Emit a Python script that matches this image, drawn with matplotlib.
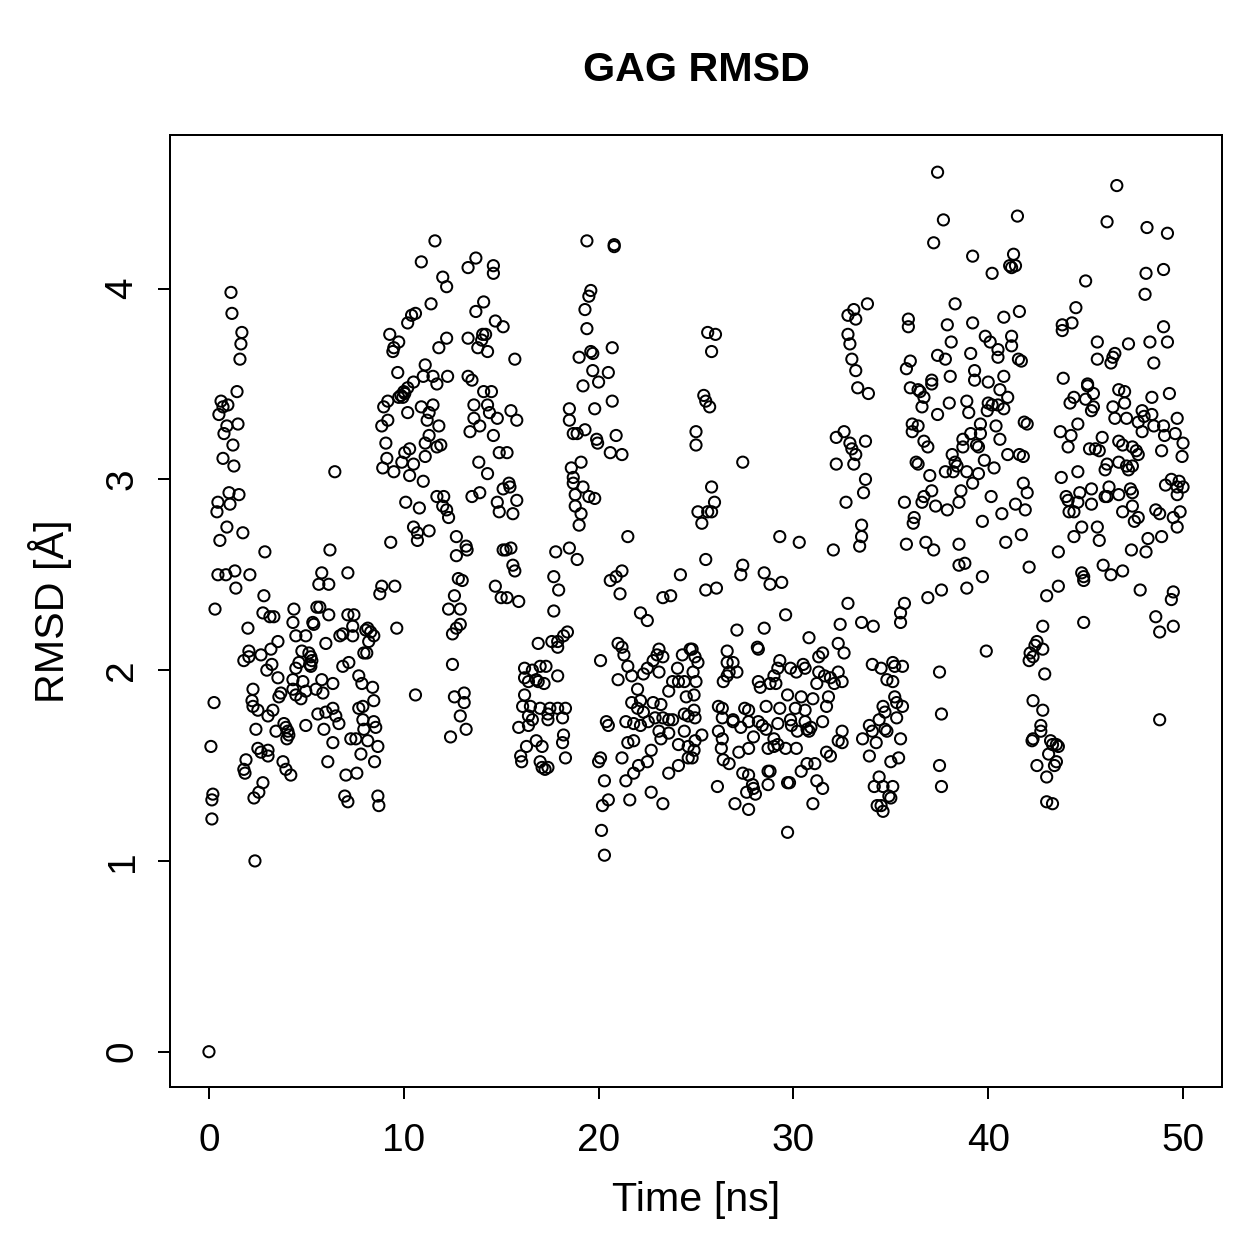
import matplotlib
matplotlib.use('Agg')
import matplotlib.pyplot as plt

# RMSD samples (time in ns, RMSD in Angstrom)
seg_a = [(0.00, 0.00), (0.10, 1.60), (0.15, 1.32), (0.20, 1.35), (0.15, 1.22), (0.26, 1.83), (0.31, 2.32),
         (0.41, 2.83), (0.46, 2.88), (0.46, 2.50), (0.56, 2.68), (0.51, 3.34), (0.62, 3.41), (0.72, 3.38),
         (0.97, 3.39), (0.92, 3.28), (0.77, 3.24), (0.72, 3.11), (0.87, 2.50), (0.92, 2.75), (1.03, 2.93),
         (1.08, 2.87), (1.13, 3.98), (1.18, 3.87), (1.23, 3.18), (1.28, 3.07), (1.33, 2.52), (1.38, 2.43),
         (1.44, 3.46), (1.49, 3.29), (1.54, 2.92), (1.59, 3.63), (1.64, 3.71), (1.69, 3.77), (1.74, 2.72),
         (1.79, 2.05), (1.79, 1.48), (1.85, 1.46), (1.90, 1.53), (2.00, 2.22), (2.05, 2.10), (2.05, 2.07),
         (2.10, 2.50), (2.21, 1.84), (2.26, 1.90), (2.26, 1.81), (2.31, 1.33), (2.36, 1.00), (2.41, 1.69),
         (2.51, 1.79), (2.51, 1.59), (2.56, 1.36), (2.67, 2.08), (2.67, 1.57), (2.77, 2.30), (2.77, 1.41),
         (2.82, 2.39), (2.87, 2.62), (2.97, 2.00), (3.03, 1.76), (3.03, 1.55), (3.03, 1.58), (3.13, 2.28),
         (3.18, 2.11), (3.23, 2.03), (3.28, 1.79), (3.33, 2.28), (3.44, 1.68), (3.54, 2.15), (3.54, 1.96),
         (3.59, 1.86), (3.69, 1.88), (3.80, 1.52), (3.85, 1.72), (3.95, 1.70), (3.95, 1.48), (4.00, 1.64),
         (4.05, 1.68), (4.10, 1.66), (4.20, 1.45)]

seg_b = [(4.36, 2.32), (4.31, 2.25), (4.46, 2.18), (4.97, 2.18), (6.00, 2.14), (6.72, 2.18), (6.87, 2.19),
         (7.38, 2.23), (7.38, 2.18), (8.05, 2.21), (4.77, 2.10), (5.13, 2.09), (5.23, 2.07), (5.28, 2.05),
         (5.18, 2.03), (4.62, 2.04), (4.46, 2.01), (5.23, 2.02), (4.31, 1.95), (4.82, 1.94), (5.79, 1.95),
         (6.36, 1.93), (6.87, 2.02), (7.18, 2.04), (7.69, 1.97), (7.85, 1.93), (7.95, 2.09), (4.31, 1.90),
         (4.46, 1.87), (4.72, 1.85), (4.97, 1.89), (5.49, 1.90), (5.85, 1.88), (5.59, 1.77), (6.00, 1.78),
         (6.36, 1.80), (6.51, 1.76), (6.67, 1.72), (7.69, 1.80), (7.90, 1.74), (4.97, 1.71), (5.90, 1.69),
         (6.36, 1.62), (7.28, 1.64), (7.54, 1.64), (7.80, 1.56), (7.95, 1.69), (6.10, 1.52), (7.03, 1.45),
         (7.59, 1.46), (6.97, 1.34), (7.13, 1.31), (5.33, 2.25), (5.38, 2.24), (5.54, 2.33), (5.69, 2.33),
         (6.15, 2.29), (7.13, 2.29), (7.44, 2.29), (5.79, 2.51), (5.64, 2.45), (6.15, 2.45), (7.13, 2.51),
         (6.21, 2.63), (6.46, 3.04)]

seg_c = [(8.15, 2.22), (8.30, 2.20), (8.46, 2.18), (8.20, 2.15), (8.10, 2.09), (8.40, 1.91), (8.46, 1.84),
         (8.46, 1.73), (8.56, 1.70), (8.15, 1.63), (8.67, 1.60), (8.50, 1.52), (8.67, 1.34), (8.72, 1.29),
         (7.90, 1.81), (8.87, 2.44), (8.77, 2.40), (9.33, 2.67), (9.54, 2.44), (9.64, 2.22), (8.92, 3.06),
         (9.13, 3.11), (9.08, 3.19), (8.87, 3.28), (9.18, 3.31), (8.97, 3.38), (9.18, 3.41), (9.28, 3.76),
         (9.44, 3.67), (9.49, 3.69), (9.74, 3.72), (9.49, 3.04), (9.69, 3.56), (9.74, 3.43), (9.85, 3.44),
         (9.90, 3.09), (10.00, 3.46)]

seg_d = [(11.6, 4.25), (10.9, 4.14), (13.7, 4.16), (13.3, 4.11), (14.6, 4.12), (14.6, 4.08), (12.0, 4.06),
         (12.2, 4.01), (11.4, 3.92), (14.1, 3.93), (13.7, 3.88), (14.7, 3.83), (15.1, 3.80), (10.4, 3.86),
         (10.6, 3.87), (10.2, 3.82), (12.2, 3.74), (11.8, 3.69), (13.3, 3.74), (14.05, 3.76), (14.2, 3.76),
         (14.0, 3.73), (13.8, 3.69), (14.3, 3.67), (15.7, 3.63), (11.1, 3.60), (11.0, 3.54), (11.5, 3.54),
         (11.7, 3.50), (12.25, 3.54), (10.5, 3.51), (10.2, 3.48), (10.05, 3.45), (9.95, 3.43), (13.3, 3.54),
         (13.5, 3.52), (14.1, 3.46), (14.5, 3.46), (10.2, 3.35), (10.9, 3.38), (11.5, 3.39), (11.3, 3.35),
         (11.2, 3.31), (11.8, 3.28), (11.3, 3.23), (11.1, 3.19), (11.9, 3.18), (11.7, 3.17), (10.3, 3.16),
         (10.05, 3.14), (11.1, 3.12), (10.5, 3.08), (10.3, 3.02), (11.0, 2.99), (13.6, 3.39), (14.3, 3.39),
         (14.4, 3.35), (14.8, 3.32), (15.5, 3.36), (15.8, 3.31), (13.6, 3.32), (13.9, 3.28), (13.4, 3.25),
         (14.6, 3.23), (14.9, 3.14), (15.3, 3.14), (13.85, 3.09), (14.3, 3.03), (15.4, 2.98), (15.45, 2.96),
         (15.1, 2.95), (15.8, 2.89), (14.8, 2.88), (14.9, 2.83), (15.6, 2.82), (13.9, 2.93), (13.5, 2.91),
         (11.7, 2.91), (12.05, 2.91), (12.0, 2.86), (12.2, 2.84), (10.8, 2.85), (10.1, 2.88)]

seg_e = [(12.3, 2.80), (10.5, 2.75), (10.7, 2.72), (11.3, 2.73), (10.7, 2.68), (12.7, 2.70), (13.2, 2.65),
         (13.25, 2.63), (12.7, 2.60), (15.1, 2.63), (15.5, 2.64), (15.25, 2.63), (15.6, 2.55), (15.7, 2.52),
         (12.8, 2.48), (13.0, 2.47), (14.7, 2.44), (15.0, 2.38), (15.3, 2.38), (15.9, 2.36), (12.6, 2.39),
         (12.3, 2.32), (12.9, 2.32), (12.5, 2.19), (12.7, 2.22), (12.9, 2.24), (12.5, 2.03), (10.6, 1.87),
         (12.6, 1.86), (13.1, 1.88), (13.1, 1.83), (12.9, 1.76), (13.2, 1.69), (12.4, 1.65), (16.2, 2.01),
         (16.2, 1.96), (16.4, 1.94), (16.2, 1.87), (16.1, 1.81), (16.4, 1.76), (15.9, 1.70), (16.3, 1.60),
         (16.0, 1.55), (16.05, 1.52)]

seg_f = [(19.4, 4.25), (19.6, 3.99), (19.5, 3.96), (19.3, 3.89), (19.4, 3.79), (19.6, 3.67), (19.7, 3.66),
         (19.0, 3.64), (19.7, 3.57), (19.2, 3.49), (19.8, 3.37), (18.5, 3.37), (18.5, 3.31), (19.3, 3.26),
         (18.7, 3.24), (18.9, 3.24), (19.9, 3.21), (19.95, 3.19), (19.1, 3.09), (18.6, 3.06), (18.7, 3.01),
         (18.7, 2.98), (19.2, 2.96), (18.8, 2.92), (19.5, 2.91), (19.8, 2.90), (18.8, 2.86), (19.1, 2.82),
         (19.0, 2.76), (17.8, 2.62), (18.5, 2.64), (18.9, 2.58), (17.7, 2.49), (17.95, 2.42), (17.7, 2.31),
         (18.4, 2.20), (18.2, 2.18), (17.6, 2.15), (17.9, 2.15), (17.9, 2.12), (16.9, 2.14), (16.6, 2.00),
         (17.0, 2.02), (17.3, 2.02), (16.8, 1.95), (16.9, 1.94), (17.2, 1.93), (17.9, 1.97), (16.5, 1.81),
         (17.0, 1.80), (17.5, 1.80), (17.9, 1.80), (18.3, 1.80), (17.4, 1.77), (18.15, 1.75), (16.6, 1.74),
         (17.4, 1.74), (16.4, 1.71), (18.2, 1.66), (18.15, 1.62), (16.8, 1.63), (17.1, 1.60), (18.3, 1.54),
         (17.0, 1.52), (17.1, 1.49), (17.4, 1.49), (17.25, 1.48)]

seg_g = [(20.8, 4.23), (20.8, 4.22), (20.7, 3.69), (20.5, 3.56), (20.0, 3.51), (20.7, 3.41), (20.9, 3.23),
         (20.6, 3.14), (21.2, 3.13), (21.5, 2.70), (20.6, 2.47), (20.9, 2.49), (21.2, 2.52), (21.1, 2.40),
         (24.2, 2.50), (23.3, 2.38), (23.7, 2.39), (22.15, 2.30), (22.5, 2.26), (20.1, 2.05), (21.0, 2.14),
         (21.2, 2.12), (21.3, 2.08), (21.5, 2.02), (21.7, 1.97), (21.0, 1.95), (22.0, 1.90), (22.3, 1.98),
         (22.5, 2.01), (22.8, 2.05), (23.1, 2.11), (23.0, 2.08), (23.3, 2.07), (23.1, 1.99), (24.3, 2.08),
         (24.7, 2.11), (24.05, 2.01), (23.8, 1.94), (24.1, 1.94), (24.4, 1.94), (23.6, 1.89), (24.5, 1.86),
         (21.7, 1.83), (22.15, 1.84), (22.8, 1.83), (23.2, 1.82), (22.0, 1.80), (22.3, 1.78), (21.4, 1.73),
         (21.8, 1.72), (22.15, 1.71), (22.55, 1.73), (22.9, 1.75), (23.3, 1.75), (23.6, 1.74), (23.8, 1.74),
         (24.4, 1.77), (24.6, 1.76), (23.1, 1.68), (23.2, 1.64), (23.6, 1.67), (24.4, 1.68), (24.1, 1.61),
         (24.6, 1.60), (24.6, 1.54), (21.5, 1.62), (21.8, 1.63), (22.7, 1.58), (22.5, 1.52), (22.05, 1.50),
         (21.2, 1.54), (21.8, 1.46), (21.4, 1.42), (24.1, 1.50), (23.6, 1.46), (21.6, 1.32), (22.7, 1.36),
         (23.3, 1.30), (20.4, 1.73), (20.5, 1.71), (20.1, 1.54), (20.0, 1.52), (20.3, 1.42), (20.5, 1.32),
         (20.2, 1.29), (20.15, 1.16), (20.3, 1.03), (24.8, 2.11), (24.95, 2.07), (25.1, 2.04), (24.85, 1.99),
         (25.0, 1.94), (24.9, 1.87), (24.9, 1.79), (24.95, 1.75), (24.95, 1.63), (24.9, 1.58), (24.8, 1.54),
         (25.0, 3.25), (25.0, 3.18)]

seg_h = [(25.6, 3.77), (26.0, 3.76), (25.8, 3.67), (25.4, 3.44), (25.5, 3.41), (25.7, 3.38), (27.4, 3.09),
         (25.8, 2.96), (25.95, 2.88), (25.1, 2.83), (25.6, 2.83), (25.8, 2.83), (25.3, 2.77), (29.3, 2.70),
         (30.3, 2.67), (32.05, 2.63), (25.5, 2.58), (27.4, 2.55), (27.3, 2.50), (28.5, 2.51), (28.8, 2.45),
         (29.4, 2.46), (25.5, 2.42), (26.05, 2.43), (32.8, 2.35), (29.6, 2.29), (32.4, 2.24), (27.1, 2.21),
         (28.5, 2.22), (30.8, 2.17), (32.3, 2.14), (32.6, 2.09), (28.15, 2.12), (28.2, 2.11), (26.6, 2.10),
         (26.6, 2.04), (26.9, 2.04), (27.1, 1.99), (26.7, 1.99), (26.6, 1.97), (26.4, 1.94), (29.3, 2.05),
         (29.2, 2.01), (29.0, 1.97), (28.8, 1.93), (29.85, 2.01), (30.15, 1.99), (30.5, 2.03), (30.6, 2.01),
         (31.3, 1.99), (31.5, 2.09), (31.3, 2.07), (31.6, 1.97), (31.9, 1.96), (32.3, 1.99), (32.5, 1.94),
         (32.1, 1.93), (31.2, 1.93), (28.2, 1.94), (28.3, 1.91), (29.1, 1.93), (29.7, 1.87), (30.4, 1.86),
         (31.0, 1.85), (31.8, 1.86), (31.7, 1.81), (28.6, 1.81), (29.3, 1.80), (30.1, 1.80), (30.6, 1.79),
         (26.15, 1.81), (26.35, 1.80), (26.35, 1.75), (26.9, 1.74), (27.5, 1.80), (27.7, 1.79), (26.9, 1.73),
         (27.7, 1.73), (28.2, 1.73), (28.4, 1.71), (28.6, 1.69), (29.2, 1.72), (29.85, 1.74), (30.6, 1.73),
         (30.9, 1.70), (31.5, 1.73), (30.7, 1.69), (30.8, 1.68), (30.2, 1.68), (29.9, 1.71), (26.15, 1.68),
         (26.35, 1.64), (27.3, 1.70), (27.95, 1.65), (25.3, 1.66), (32.5, 1.68), (32.3, 1.63), (32.5, 1.62),
         (29.0, 1.64), (29.2, 1.61), (29.0, 1.60), (28.7, 1.59), (29.6, 1.59), (30.15, 1.59), (27.7, 1.59),
         (27.2, 1.57), (26.3, 1.59), (26.4, 1.53), (26.7, 1.51), (31.7, 1.57), (31.9, 1.55), (30.7, 1.51),
         (31.1, 1.51), (27.4, 1.46), (27.7, 1.45), (28.8, 1.47), (28.7, 1.47), (30.4, 1.47), (31.2, 1.42),
         (29.7, 1.41), (29.8, 1.41), (27.9, 1.40), (27.95, 1.38), (27.6, 1.36), (28.05, 1.35), (28.7, 1.40),
         (26.1, 1.39), (31.5, 1.38), (27.0, 1.30), (27.7, 1.27), (31.0, 1.30), (29.7, 1.15)]

seg_h2 = [(33.1, 3.89), (32.8, 3.86), (33.2, 3.84), (32.8, 3.76), (32.9, 3.71), (33.0, 3.63), (33.2, 3.57),
          (33.3, 3.48), (33.85, 3.45), (33.8, 3.92), (32.6, 3.25), (32.2, 3.22), (32.9, 3.19), (33.0, 3.16),
          (33.2, 3.13), (32.2, 3.08), (33.1, 3.08), (33.7, 3.20), (33.7, 3.00), (33.6, 2.93), (32.7, 2.88),
          (33.5, 2.76), (33.5, 2.70), (33.4, 2.65), (33.5, 2.25), (34.1, 2.23), (33.55, 1.64)]

seg_i = [(34.05, 2.03), (34.5, 2.01), (35.1, 2.04), (35.2, 2.02), (35.6, 2.02), (34.8, 1.95), (35.1, 1.94),
         (35.2, 1.86), (35.3, 1.83), (35.6, 1.81), (34.6, 1.81), (34.7, 1.78), (35.3, 1.75), (34.4, 1.74),
         (33.9, 1.71), (34.05, 1.68), (34.7, 1.69), (34.8, 1.68), (34.25, 1.62), (35.5, 1.64), (33.9, 1.55),
         (35.0, 1.52), (35.4, 1.54), (34.4, 1.44), (34.15, 1.39), (34.6, 1.39), (35.1, 1.39), (34.9, 1.34),
         (35.0, 1.33), (34.3, 1.29), (34.5, 1.29), (34.6, 1.26), (35.7, 2.35), (35.5, 2.30), (35.5, 2.25),
         (35.8, 2.66), (36.8, 2.67), (37.2, 2.63), (36.2, 2.80), (36.15, 2.77), (38.5, 2.66), (38.5, 2.55),
         (38.8, 2.56), (39.7, 2.49), (38.9, 2.43), (37.6, 2.42), (36.9, 2.38), (39.9, 2.10), (37.5, 1.99),
         (37.6, 1.77), (37.5, 1.50), (37.6, 1.39), (39.7, 2.78), (40.7, 2.82), (40.9, 2.67), (41.7, 2.71)]

seg_j = [(37.4, 4.61), (41.5, 4.38), (37.7, 4.36), (37.2, 4.24), (39.2, 4.17), (40.2, 4.08), (41.3, 4.18),
         (41.1, 4.12), (41.4, 4.12), (41.2, 4.11), (38.3, 3.92), (35.9, 3.84), (35.9, 3.80), (37.9, 3.81),
         (39.2, 3.82), (40.8, 3.85), (41.6, 3.88), (39.85, 3.75), (40.1, 3.72), (41.2, 3.75), (38.1, 3.72),
         (41.2, 3.70), (40.5, 3.68), (40.5, 3.64), (39.1, 3.66), (37.4, 3.65), (37.8, 3.63), (41.55, 3.63),
         (41.7, 3.62), (36.0, 3.62), (35.8, 3.58), (39.3, 3.57), (39.3, 3.52), (37.1, 3.52), (37.1, 3.50),
         (38.05, 3.54), (40.8, 3.54), (40.0, 3.51), (36.0, 3.48), (36.4, 3.47), (36.5, 3.46), (36.7, 3.43),
         (40.6, 3.47), (41.0, 3.43), (38.9, 3.41), (38.0, 3.40), (40.0, 3.40), (40.2, 3.39), (40.5, 3.39),
         (40.8, 3.37), (39.95, 3.36), (36.6, 3.38), (37.4, 3.34), (39.0, 3.35), (36.1, 3.29), (36.4, 3.28),
         (36.1, 3.25), (39.6, 3.29), (40.4, 3.28), (41.85, 3.30), (42.0, 3.29), (38.7, 3.21), (39.1, 3.24),
         (39.6, 3.24), (40.6, 3.21), (36.7, 3.20), (36.9, 3.17), (39.4, 3.18), (39.5, 3.17), (38.7, 3.17),
         (36.3, 3.09), (36.4, 3.08), (38.15, 3.13), (38.3, 3.09), (38.4, 3.07), (38.2, 3.04), (37.8, 3.04),
         (38.9, 3.04), (39.8, 3.10), (40.3, 3.06), (41.0, 3.13), (41.6, 3.13), (41.8, 3.12), (39.5, 3.03),
         (39.2, 2.98), (38.6, 2.94), (37.0, 3.02), (37.1, 2.94), (36.7, 2.91), (36.6, 2.88), (35.7, 2.88),
         (37.3, 2.86), (37.9, 2.84), (38.5, 2.88), (40.15, 2.91), (41.4, 2.87), (41.8, 2.98), (42.0, 2.93),
         (41.9, 2.84)]

seg_k = [(42.1, 2.54), (43.6, 2.62), (43.0, 2.39), (43.6, 2.44), (42.8, 2.23), (42.5, 2.15), (42.15, 2.09),
         (42.4, 2.13), (42.8, 2.11), (42.3, 2.07), (42.1, 2.05), (42.9, 1.98), (42.3, 1.84), (42.8, 1.79),
         (42.7, 1.71), (42.7, 1.68), (42.3, 1.64), (42.25, 1.63), (43.2, 1.63), (43.3, 1.61), (43.5, 1.61),
         (43.6, 1.60), (43.1, 1.56), (42.5, 1.50), (43.5, 1.52), (43.4, 1.50), (43.0, 1.44), (43.0, 1.31),
         (43.3, 1.30)]

seg_l = [(46.6, 4.54), (46.1, 4.35), (48.15, 4.32), (49.2, 4.29), (49.0, 4.10), (48.1, 4.08), (48.05, 3.97),
         (45.0, 4.04), (44.5, 3.90), (44.3, 3.82), (43.8, 3.81), (43.8, 3.78), (49.0, 3.80), (45.6, 3.72),
         (47.2, 3.71), (48.3, 3.72), (49.2, 3.72), (46.5, 3.66), (46.4, 3.64), (46.3, 3.61), (45.6, 3.63),
         (48.5, 3.61), (43.85, 3.53), (45.1, 3.50), (45.1, 3.49), (45.4, 3.45), (44.4, 3.43), (44.2, 3.40),
         (45.0, 3.42), (46.7, 3.47), (47.0, 3.46), (47.0, 3.40), (48.4, 3.43), (49.3, 3.45), (45.4, 3.38),
         (45.3, 3.36), (46.4, 3.38), (46.5, 3.32), (47.1, 3.32), (47.9, 3.36), (48.0, 3.33), (48.4, 3.34),
         (47.7, 3.30), (47.9, 3.25), (48.5, 3.28), (49.0, 3.28), (49.05, 3.23), (49.7, 3.32), (49.6, 3.24),
         (50.0, 3.19), (44.6, 3.29), (43.7, 3.25), (44.25, 3.23), (44.1, 3.17), (45.85, 3.22), (45.2, 3.16),
         (45.5, 3.16), (45.7, 3.15), (46.7, 3.20), (46.9, 3.18), (47.4, 3.17), (47.6, 3.15), (47.7, 3.13),
         (48.9, 3.15), (49.95, 3.12), (46.1, 3.08), (46.0, 3.05), (46.7, 3.09), (47.1, 3.07), (47.2, 3.05),
         (47.4, 3.07), (44.6, 3.04), (43.75, 3.01), (49.4, 3.00), (49.8, 2.99), (49.1, 2.97), (49.7, 2.96),
         (50.0, 2.96), (49.7, 2.92), (45.3, 2.95), (44.7, 2.93), (44.0, 2.91), (44.1, 2.89), (44.6, 2.88),
         (44.15, 2.83), (44.4, 2.83), (46.2, 2.96), (46.1, 2.91), (46.0, 2.91), (46.7, 2.92), (47.3, 2.95),
         (47.4, 2.93), (45.3, 2.87), (46.9, 2.83), (47.4, 2.86), (47.7, 2.80), (48.6, 2.84), (48.8, 2.82),
         (49.85, 2.83), (49.5, 2.80), (44.4, 2.70), (44.8, 2.75), (45.6, 2.75), (45.7, 2.68), (44.8, 2.51),
         (44.9, 2.49), (44.9, 2.47), (45.9, 2.55), (46.3, 2.50), (46.9, 2.52), (47.35, 2.63), (47.8, 2.42),
         (48.1, 2.62), (48.2, 2.69), (48.9, 2.70), (49.7, 2.75), (47.5, 2.78), (49.5, 2.41), (49.4, 2.37),
         (48.6, 2.28), (49.5, 2.23), (48.8, 2.20), (44.9, 2.25), (48.8, 1.74)]

segments = [seg_a, seg_b, seg_c, seg_d, seg_e, seg_f, seg_g, seg_h, seg_h2, seg_i, seg_j, seg_k, seg_l]
time_ns = [p[0] for seg in segments for p in seg]
rmsd = [p[1] for seg in segments for p in seg]

plt.rcParams['font.family'] = ['Liberation Sans', 'DejaVu Sans']

W = 1259
fig = plt.figure(figsize=(W / 180, W / 180), dpi=180)
ax = fig.add_axes([170 / W, 1 - 1087 / W, (1222 - 170) / W, (1087 - 135) / W])

ax.scatter(time_ns, rmsd, s=20, facecolors='none', edgecolors='black', linewidths=0.8)

ax.set_xlim(-2, 52)
ax.set_ylim(-0.185, 4.805)
ax.set_xticks([0, 10, 20, 30, 40, 50])
ax.set_yticks([0, 1, 2, 3, 4])
for s in ax.spines.values():
    s.set_linewidth(0.8)
ax.tick_params(direction='out', length=4.8, width=0.8, labelsize=15.5)
ax.tick_params(axis='x', pad=9.5)
ax.tick_params(axis='y', pad=7)
for lab in ax.get_yticklabels():
    lab.set_rotation(90)
    lab.set_va('center')

fig.text(0.5 * (170 + 1222) / W, 1 - 70 / W, 'GAG RMSD', ha='center', va='center',
         fontsize=16.5, fontweight='bold')
fig.text(0.5 * (170 + 1222) / W, 1 - 1200 / W, 'Time [ns]', ha='center', va='center', fontsize=16.5)
fig.text(50 / W, 1 - 611 / W, 'RMSD [Å]', ha='center', va='center', rotation=90, fontsize=16.5)

fig.savefig('out.png', dpi=180)
